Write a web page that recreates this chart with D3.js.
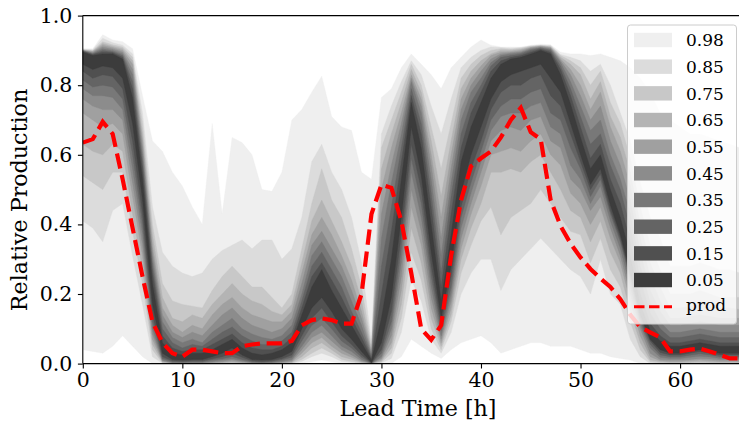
<!DOCTYPE html>
<html><head><meta charset="utf-8">
<script src="https://cdn.jsdelivr.net/npm/d3@7"></script>
<style>
body{margin:0;background:#fff}
svg{display:block}
text{font-family:"DejaVu Serif",serif;fill:#000}
</style></head>
<body><svg id="chart" width="739" height="427"></svg>
<script>
// ---------- data ----------
const hours = [0,1,2,3,4,5,6,7,8,9,10,11,12,13,14,15,16,17,18,19,20,21,22,23,24,25,26,27,28,29,30,31,32,33,34,35,36,37,38,39,40,41,42,43,44,45,46,47,48,49,50,51,52,53,54,55,56,57,58,59,60,61,62,63,64,65,66];
const levels = ["0.98","0.85","0.75","0.65","0.55","0.45","0.35","0.25","0.15","0.05"];
const bandColors = ["#efefef","#dcdcdc","#c8c8c8","#b4b4b4","#a0a0a0","#8c8c8c","#787878","#646464","#505050","#3c3c3c"];

const lo98 = [.04,.035,.03,.05,.08,.05,.02,0,0,0,0,0,0,0,0,0,0,0,0,0,0,0,0,.005,.01,.005,0,0,0,0,0,0,.02,.07,.05,.03,.015,.04,.06,.07,.08,.06,.03,.04,.05,.06,.06,.05,.05,.05,.04,.03,.03,.02,.015,.01,0,0,0,0,0,0,0,0,0,0,0];
const lo85 = [.41,.39,.35,.44,.46,.31,.17,.02,.001,0,0,0,0,0,0,0,0,0,0,0,0,0,.006,.02,.03,.02,.006,.003,0,0,.002,.015,.09,.24,.18,.07,.03,.09,.2,.26,.3,.3,.21,.27,.3,.33,.36,.33,.3,.27,.25,.2,.3,.2,.17,.07,.02,0,0,0,0,0,0,0,0,0,0];
const lo75 = [.54,.52,.5,.55,.55,.38,.23,.04,.002,0,0,0,0,0,.001,.001,0,0,0,0,0,.001,.012,.03,.045,.03,.012,.006,.001,0,.004,.03,.13,.32,.24,.1,.04,.12,.26,.34,.41,.45,.37,.42,.44,.46,.5,.46,.42,.38,.37,.29,.36,.27,.22,.12,.04,.005,.002,.001,.001,.002,.002,.002,.001,.001,.001];
const lo65 = [.63,.61,.6,.63,.61,.43,.27,.055,.004,.001,0,0,0,.001,.002,.003,.001,0,0,0,.001,.003,.02,.045,.06,.04,.02,.012,.003,0,.007,.045,.17,.39,.29,.13,.05,.14,.3,.39,.46,.55,.55,.56,.55,.58,.6,.55,.5,.44,.42,.35,.41,.32,.26,.15,.06,.01,.005,.003,.003,.004,.005,.004,.003,.003,.003];
const lo55 = [.72,.7,.68,.69,.66,.48,.31,.07,.006,.001,.001,.001,.001,.002,.004,.006,.003,.001,0,.001,.002,.005,.03,.06,.075,.05,.03,.018,.005,0,.01,.06,.21,.45,.34,.16,.06,.16,.33,.43,.51,.6,.61,.62,.61,.64,.66,.6,.57,.49,.46,.4,.45,.36,.29,.18,.08,.02,.008,.006,.006,.008,.01,.008,.006,.006,.006];
const lo45 = [.76,.74,.73,.73,.7,.52,.34,.085,.008,.002,.002,.002,.002,.004,.006,.01,.005,.002,.001,.002,.004,.008,.04,.075,.09,.065,.04,.025,.008,0,.015,.08,.25,.5,.38,.19,.07,.18,.36,.46,.55,.64,.67,.68,.67,.7,.71,.64,.62,.53,.5,.44,.48,.39,.31,.2,.1,.03,.012,.01,.01,.012,.015,.013,.01,.01,.01];
const lo35 = [.79,.77,.77,.765,.73,.56,.37,.1,.01,.003,.003,.003,.003,.006,.01,.014,.008,.003,.002,.003,.006,.012,.05,.09,.11,.08,.05,.035,.012,0,.02,.1,.29,.55,.42,.22,.08,.2,.39,.49,.58,.67,.71,.72,.72,.74,.75,.68,.66,.57,.53,.46,.51,.41,.33,.22,.11,.045,.018,.015,.015,.018,.021,.019,.015,.015,.015];
const lo25 = [.815,.795,.8,.795,.76,.6,.4,.12,.015,.005,.004,.005,.005,.01,.014,.02,.012,.005,.004,.005,.01,.018,.065,.11,.13,.1,.065,.045,.018,.001,.03,.12,.33,.59,.46,.25,.095,.22,.42,.52,.61,.7,.74,.76,.76,.78,.79,.72,.7,.62,.56,.48,.53,.43,.35,.24,.12,.055,.025,.02,.02,.024,.028,.025,.02,.02,.02];
const lo15 = [.84,.82,.83,.825,.79,.64,.43,.14,.02,.008,.007,.008,.008,.014,.02,.03,.018,.008,.006,.008,.014,.025,.08,.13,.16,.12,.08,.055,.025,.002,.04,.15,.37,.63,.5,.28,.11,.25,.45,.56,.64,.73,.78,.8,.8,.82,.83,.77,.74,.66,.58,.5,.545,.44,.36,.25,.13,.065,.032,.025,.025,.03,.035,.03,.025,.025,.025];
const lo05 = [.86,.845,.855,.85,.82,.69,.47,.17,.03,.012,.01,.012,.012,.02,.03,.045,.025,.012,.01,.012,.02,.035,.1,.16,.19,.15,.1,.07,.035,.003,.06,.19,.42,.68,.54,.32,.13,.28,.49,.6,.68,.76,.81,.83,.84,.85,.86,.82,.78,.69,.6,.515,.56,.455,.37,.26,.14,.07,.04,.03,.03,.035,.04,.035,.03,.03,.03];

const hi05 = [.895,.885,.89,.89,.875,.765,.53,.23,.06,.03,.025,.03,.03,.04,.055,.07,.045,.03,.025,.03,.04,.06,.14,.22,.27,.21,.16,.11,.06,.01,.13,.3,.53,.75,.62,.4,.18,.37,.58,.68,.75,.82,.86,.875,.88,.89,.9,.89,.83,.745,.65,.56,.6,.5,.42,.31,.17,.095,.065,.05,.05,.055,.06,.055,.05,.05,.05];
const hi15 = [.897,.888,.895,.893,.88,.79,.56,.26,.08,.045,.035,.04,.04,.055,.07,.085,.06,.045,.04,.04,.05,.075,.16,.25,.29,.24,.19,.13,.075,.015,.2,.38,.58,.77,.66,.45,.22,.43,.62,.72,.78,.84,.87,.88,.885,.895,.903,.895,.845,.77,.68,.59,.63,.53,.46,.35,.2,.115,.08,.06,.06,.065,.07,.065,.06,.06,.06];
const hi25 = [.898,.89,.9,.896,.885,.81,.58,.28,.1,.06,.045,.055,.05,.07,.09,.105,.08,.065,.055,.055,.065,.09,.18,.28,.32,.27,.22,.15,.09,.02,.28,.45,.62,.79,.69,.49,.26,.48,.66,.75,.8,.855,.88,.885,.89,.9,.906,.9,.855,.79,.71,.63,.66,.57,.5,.39,.24,.145,.1,.075,.075,.08,.085,.08,.075,.075,.075];
const hi35 = [.899,.892,.905,.9,.89,.83,.6,.3,.12,.075,.06,.07,.06,.09,.11,.13,.1,.085,.075,.07,.08,.11,.2,.31,.35,.3,.25,.18,.11,.025,.36,.52,.66,.81,.72,.53,.31,.52,.7,.78,.82,.865,.885,.89,.893,.903,.908,.903,.865,.81,.74,.67,.7,.6,.53,.43,.28,.175,.12,.09,.09,.095,.1,.095,.09,.09,.09];
const hi45 = [.9,.894,.91,.904,.895,.845,.62,.32,.14,.09,.075,.09,.08,.11,.14,.16,.13,.11,.1,.09,.1,.13,.23,.34,.38,.33,.28,.21,.13,.03,.43,.57,.69,.82,.74,.57,.36,.56,.73,.8,.84,.875,.89,.893,.896,.906,.91,.906,.87,.83,.77,.7,.74,.64,.57,.47,.32,.21,.15,.11,.11,.115,.12,.115,.11,.11,.11];
const hi55 = [.9,.896,.915,.908,.9,.86,.64,.34,.16,.11,.09,.11,.1,.14,.17,.19,.16,.14,.13,.12,.12,.15,.26,.37,.42,.37,.31,.24,.15,.035,.5,.62,.72,.83,.76,.6,.42,.6,.76,.82,.855,.885,.895,.896,.9,.908,.912,.908,.875,.845,.8,.73,.78,.68,.61,.51,.36,.25,.18,.13,.13,.135,.14,.135,.13,.13,.13];
const hi65 = [.901,.898,.92,.912,.905,.87,.66,.37,.19,.13,.12,.14,.13,.17,.2,.23,.2,.18,.17,.15,.14,.17,.29,.41,.47,.41,.35,.28,.18,.04,.56,.66,.75,.845,.78,.64,.48,.64,.79,.84,.87,.89,.9,.9,.903,.91,.913,.91,.88,.86,.83,.76,.81,.71,.65,.55,.4,.29,.22,.16,.16,.165,.17,.165,.16,.16,.155];
const hi75 = [.902,.9,.925,.916,.91,.88,.69,.4,.23,.18,.17,.165,.16,.21,.25,.28,.25,.22,.22,.19,.16,.2,.33,.46,.56,.47,.42,.33,.22,.05,.62,.7,.78,.86,.8,.68,.56,.69,.82,.86,.885,.9,.905,.903,.906,.912,.914,.912,.885,.87,.85,.8,.84,.75,.69,.59,.45,.34,.27,.2,.2,.2,.21,.2,.19,.19,.19];
const hi85 = [.903,.902,.935,.922,.915,.89,.72,.45,.32,.28,.26,.25,.26,.3,.325,.34,.355,.33,.355,.355,.3,.33,.42,.58,.63,.55,.5,.42,.29,.06,.66,.74,.81,.87,.83,.74,.66,.76,.85,.88,.9,.91,.908,.906,.908,.913,.915,.914,.888,.88,.87,.84,.86,.8,.72,.64,.52,.42,.36,.28,.28,.28,.29,.28,.27,.27,.26];
const hi98 = [.905,.905,.945,.93,.925,.905,.77,.64,.61,.55,.51,.45,.4,.69,.43,.65,.635,.6,.5,.495,.55,.7,.73,.78,.826,.71,.68,.67,.55,.53,.765,.79,.85,.89,.86,.83,.79,.85,.88,.91,.93,.915,.91,.91,.91,.915,.918,.916,.895,.89,.89,.885,.89,.88,.87,.85,.82,.78,.72,.7,.68,.66,.66,.65,.64,.63,.62];

const prod = [.635,.645,.695,.66,.53,.39,.25,.12,.06,.03,.02,.04,.04,.035,.03,.03,.05,.055,.058,.058,.058,.065,.11,.125,.13,.125,.115,.115,.2,.43,.514,.505,.41,.26,.1,.068,.11,.31,.47,.567,.59,.61,.65,.70,.735,.665,.645,.47,.395,.345,.305,.272,.245,.22,.185,.14,.105,.09,.075,.035,.035,.04,.043,.035,.025,.015,.015];

const xTicks = [0,10,20,30,40,50,60];
const yTicks = [0,0.2,0.4,0.6,0.8,1.0];

const lowers = [lo98,lo85,lo75,lo65,lo55,lo45,lo35,lo25,lo15,lo05];
const uppers = [hi98,hi85,hi75,hi65,hi55,hi45,hi35,hi25,hi15,hi05];

// ---------- layout ----------
const svg = d3.select("#chart");
const L = 82.8, R = 739.8, T = 15.6, B = 363.6;
const x = d3.scaleLinear().domain([0,66]).range([L,R]);
const y = d3.scaleLinear().domain([0,1]).range([B,T]);

svg.append("defs").append("clipPath").attr("id","plotclip")
  .append("rect").attr("x",L).attr("y",T).attr("width",R-L).attr("height",B-T);

const plot = svg.append("g").attr("clip-path","url(#plotclip)");

levels.forEach((lev,i)=>{
  const lo = lowers[i], hi = uppers[i];
  const area = d3.area()
    .x((d,j)=>x(hours[j]))
    .y0((d,j)=>y(lo[j]))
    .y1((d,j)=>y(hi[j]));
  plot.append("path").datum(hours)
    .attr("d",area)
    .attr("fill",bandColors[i])
    .attr("stroke",bandColors[i]).attr("stroke-width",0.4);
});

const line = d3.line().x((d,j)=>x(hours[j])).y(d=>y(d));
plot.append("path").datum(prod)
  .attr("d",line).attr("fill","none")
  .attr("stroke","#ff0000").attr("stroke-width",4.2)
  .attr("stroke-dasharray","15.4,6.7");

// ---------- axes ----------
const fsTick = 20.5, fsLab = 22.2;
const xAxis = svg.append("g").attr("transform",`translate(0,${B})`)
  .call(d3.axisBottom(x).tickValues(xTicks).tickFormat(d3.format("d")).tickSize(4.9).tickPadding(4.3).tickSizeOuter(0));
const yAxis = svg.append("g").attr("transform",`translate(${L},0)`)
  .call(d3.axisLeft(y).tickValues(yTicks).tickFormat(d3.format(".1f")).tickSize(4.9).tickPadding(5.5).tickSizeOuter(0));
[xAxis,yAxis].forEach(g=>{
  g.select(".domain").remove();
  g.selectAll(".tick line").attr("stroke","#000").attr("stroke-width",1.1);
  g.selectAll(".tick text").style("font-family","DejaVu Serif").style("font-size",fsTick+"px").attr("fill","#000");
});

// spines
const sp = svg.append("g").attr("stroke","#000").attr("stroke-width",1.1).attr("fill","none");
sp.append("line").attr("x1",L).attr("x2",L).attr("y1",T).attr("y2",B);
sp.append("line").attr("x1",L).attr("x2",R).attr("y1",B).attr("y2",B);
sp.append("line").attr("x1",L).attr("x2",R).attr("y1",T).attr("y2",T);
sp.append("line").attr("x1",R).attr("x2",R).attr("y1",T).attr("y2",B);

svg.append("text").attr("x",418).attr("y",416)
  .attr("text-anchor","middle").style("font-size",fsLab+"px").text("Lead Time [h]");
svg.append("text").attr("transform",`translate(27,200) rotate(-90)`)
  .attr("text-anchor","middle").style("font-size",fsLab+"px").text("Relative Production");

// ---------- legend ----------
const lg = svg.append("g");
lg.append("rect").attr("x",627.5).attr("y",25).attr("width",109).attr("height",299)
  .attr("rx",3).attr("fill","#fff").attr("fill-opacity",0.8)
  .attr("stroke","#cccccc").attr("stroke-width",1);
const rowH = 26.67, y0 = 40;
levels.forEach((lev,i)=>{
  const cy = y0 + i*rowH;
  lg.append("rect").attr("x",634).attr("y",cy-7.2).attr("width",38).attr("height",14.4).attr("fill",bandColors[i]);
  lg.append("text").attr("x",686).attr("y",cy+6.4).style("font-size","17px").text(lev);
});
const py = y0 + levels.length*rowH;
lg.append("line").attr("x1",634).attr("x2",672).attr("y1",py).attr("y2",py)
  .attr("stroke","#ff0000").attr("stroke-width",3).attr("stroke-dasharray","10.5,4.5");
lg.append("text").attr("x",686).attr("y",py+4.5).style("font-size","17px").text("prod");
</script>
</body></html>
